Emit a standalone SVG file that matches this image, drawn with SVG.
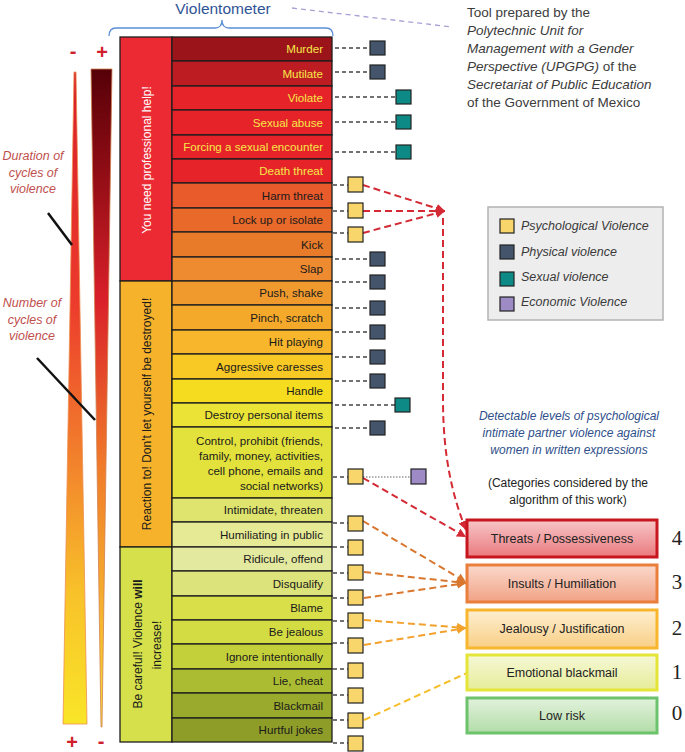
<svg xmlns="http://www.w3.org/2000/svg" width="685" height="752" viewBox="0 0 685 752">
<defs>
<style>
.row{stroke:#1e1e1e;stroke-width:1.3}
.lbl{font-family:"Liberation Sans",Arial,sans-serif;font-size:11.6px;text-anchor:end;fill:#1a1a1a}
.lblY{fill:#F6E84A}
.vt{font-family:"Liberation Sans",Arial,sans-serif;font-size:12px;text-anchor:middle}
.sq{stroke:#222;stroke-width:1.2}
.psy{fill:#F9D66B}
.phy{fill:#44546A}
.sex{fill:#0E8A86}
.eco{fill:#9E8BC6}
.stub{stroke:#444;stroke-width:1.3;stroke-dasharray:4 3;fill:none}
.c4{stroke:#D42A35;stroke-width:2;stroke-dasharray:7 4;fill:none}
.c3{stroke:#D9772F;stroke-width:2;stroke-dasharray:7 4;fill:none}
.c2{stroke:#F2A12C;stroke-width:2;stroke-dasharray:7 4;fill:none}
.c1{stroke:#F5BE2A;stroke-width:2;stroke-dasharray:7 4;fill:none}
.side{font-family:"Liberation Sans",Arial,sans-serif;font-size:12.5px;font-style:italic;fill:#C0504D;text-anchor:middle}
.pm{font-family:"Liberation Sans",Arial,sans-serif;font-size:20px;font-weight:bold;fill:#D0202E;text-anchor:middle}
.note{font-family:"Liberation Sans",Arial,sans-serif;font-size:13.5px;fill:#3c3c3c}
.it{font-style:italic}
.leg{font-family:"Liberation Sans",Arial,sans-serif;font-size:12.5px;font-style:italic;fill:#3a3a3a}
.bx{font-family:"Liberation Sans",Arial,sans-serif;font-size:12.5px;text-anchor:middle;fill:#222}
.num{font-family:"Liberation Serif","Times New Roman",serif;font-size:21px;text-anchor:middle;fill:#222}
</style>
<linearGradient id="gL" x1="0" y1="0" x2="0" y2="1">
<stop offset="0" stop-color="#D81E2A"/><stop offset="0.35" stop-color="#EC3A2C"/><stop offset="0.6" stop-color="#F2832C"/><stop offset="0.8" stop-color="#F8C22A"/><stop offset="1" stop-color="#F9E528"/>
</linearGradient>
<linearGradient id="gR" x1="0" y1="0" x2="0" y2="1">
<stop offset="0" stop-color="#560008"/><stop offset="0.15" stop-color="#8E0C14"/><stop offset="0.35" stop-color="#D9202A"/><stop offset="0.6" stop-color="#F07A2A"/><stop offset="1" stop-color="#F9E030"/>
</linearGradient>
<linearGradient id="b4" x1="0" y1="0" x2="0" y2="1"><stop offset="0" stop-color="#F7C6C7"/><stop offset="1" stop-color="#EA7A7E"/></linearGradient>
<linearGradient id="b3" x1="0" y1="0" x2="0" y2="1"><stop offset="0" stop-color="#FBD9CC"/><stop offset="1" stop-color="#F1A285"/></linearGradient>
<linearGradient id="b2" x1="0" y1="0" x2="0" y2="1"><stop offset="0" stop-color="#FDEFD0"/><stop offset="1" stop-color="#F9CF86"/></linearGradient>
<linearGradient id="b1" x1="0" y1="0" x2="0" y2="1"><stop offset="0" stop-color="#F6F8D6"/><stop offset="1" stop-color="#E6EC98"/></linearGradient>
<linearGradient id="b0" x1="0" y1="0" x2="0" y2="1"><stop offset="0" stop-color="#E3F2DC"/><stop offset="1" stop-color="#B2DDA8"/></linearGradient>
<marker id="a4" markerUnits="userSpaceOnUse" markerWidth="9" markerHeight="9" refX="9" refY="4.5" orient="auto"><path d="M0,0 L9,4.5 L0,9 z" fill="#D42A35"/></marker>
<marker id="a3" markerUnits="userSpaceOnUse" markerWidth="9" markerHeight="9" refX="9" refY="4.5" orient="auto"><path d="M0,0 L9,4.5 L0,9 z" fill="#D9772F"/></marker>
<marker id="a2" markerUnits="userSpaceOnUse" markerWidth="9" markerHeight="9" refX="9" refY="4.5" orient="auto"><path d="M0,0 L9,4.5 L0,9 z" fill="#F2A12C"/></marker>
</defs>
<rect width="685" height="752" fill="#fff"/>

<!-- title and brace -->
<g id="title">
<text x="223" y="14" font-family="Liberation Sans,Arial,sans-serif" font-size="15.5" fill="#2F5496" text-anchor="middle">Violentometer</text>
<path d="M109,36 Q109,28 116,28 L215,28 Q222,28 222,20 Q222,28 229,28 L326,28 Q333,28 333,36" fill="none" stroke="#5B8FD6" stroke-width="1.3"/>
<line x1="292" y1="8" x2="452" y2="27" stroke="#A99FD6" stroke-width="1.3" stroke-dasharray="5 4"/>
</g>

<g id="source-note">
<text class="note" x="467" y="17">Tool prepared by the</text>
<text class="note it" x="467" y="35">Polytechnic Unit for</text>
<text class="note it" x="467" y="53">Management with a Gender</text>
<text class="note" x="467" y="71"><tspan class="it">Perspective (UPGPG)</tspan> of the</text>
<text class="note it" x="467" y="89">Secretariat of Public Education</text>
<text class="note" x="467" y="107">of the Government of Mexico</text>
</g>

<!-- left scales -->
<g id="scales">
<polygon points="74,72 76,72 87,724 63,724" fill="url(#gL)" stroke="#EE9050" stroke-width="0.8"/>
<polygon points="91,69 112,69 102,727 101,727" fill="url(#gR)" stroke="#D08050" stroke-width="0.8"/>
<text class="pm" x="73" y="58">-</text>
<text class="pm" x="102" y="59">+</text>
<text class="pm" x="72" y="749">+</text>
<text class="pm" x="101" y="748">-</text>
<text class="side" x="33" y="160">Duration of</text>
<text class="side" x="33" y="177">cycles of</text>
<text class="side" x="33" y="193">violence</text>
<text class="side" x="32" y="307">Number of</text>
<text class="side" x="32" y="324">cycles of</text>
<text class="side" x="32" y="340">violence</text>
<line x1="48" y1="213" x2="72" y2="245" stroke="#111" stroke-width="2.5"/>
<line x1="37" y1="358" x2="95" y2="420" stroke="#111" stroke-width="2.5"/>
</g>

<!-- left stage column -->
<g id="stage-help">
<rect class="row" x="120" y="37" width="52" height="244" fill="#EC2A33"/>
<text class="vt" fill="#fff" transform="translate(151,160) rotate(-90)">You need professional help!</text>
</g>
<g id="stage-reaction">
<rect class="row" x="120" y="281" width="52" height="266" fill="#F7B22B"/>
<text class="vt" fill="#1a1a1a" transform="translate(151,414) rotate(-90)">Reaction to! Don't let yourself be destroyed!</text>
</g>
<g id="stage-careful">
<rect class="row" x="120" y="547" width="52" height="195" fill="#D5E04A"/>
<text class="vt" fill="#1a1a1a" transform="translate(142,644) rotate(-90)">Be careful! Violence <tspan font-weight="bold">will</tspan></text>
<text class="vt" fill="#1a1a1a" transform="translate(161,645) rotate(-90)">increase!</text>
</g>

<!-- rows -->
<g id="r-murder"><rect class="row" x="172" y="37" width="160" height="24" fill="#9B1419"/><text class="lbl lblY" x="323" y="53">Murder</text></g>
<g id="r-mutilate"><rect class="row" x="172" y="61" width="160" height="25" fill="#BD1C22"/><text class="lbl lblY" x="323" y="78">Mutilate</text></g>
<g id="r-violate"><rect class="row" x="172" y="86" width="160" height="24" fill="#E52329"/><text class="lbl lblY" x="323" y="102">Violate</text></g>
<g id="r-sexual-abuse"><rect class="row" x="172" y="110" width="160" height="25" fill="#E52329"/><text class="lbl lblY" x="323" y="127">Sexual abuse</text></g>
<g id="r-forcing"><rect class="row" x="172" y="135" width="160" height="24" fill="#E52329"/><text class="lbl lblY" x="323" y="151">Forcing a sexual encounter</text></g>
<g id="r-death-threat"><rect class="row" x="172" y="159" width="160" height="24" fill="#E52329"/><text class="lbl lblY" x="323" y="175">Death threat</text></g>
<g id="r-harm-threat"><rect class="row" x="172" y="183" width="160" height="25" fill="#EA5B2C"/><text class="lbl" x="323" y="200">Harm threat</text></g>
<g id="r-lock-up"><rect class="row" x="172" y="208" width="160" height="24" fill="#E8692A"/><text class="lbl" x="323" y="224">Lock up or isolate</text></g>
<g id="r-kick"><rect class="row" x="172" y="232" width="160" height="25" fill="#E77B2A"/><text class="lbl" x="323" y="249">Kick</text></g>
<g id="r-slap"><rect class="row" x="172" y="257" width="160" height="24" fill="#EE8A2F"/><text class="lbl" x="323" y="273">Slap</text></g>
<g id="r-push"><rect class="row" x="172" y="281" width="160" height="24" fill="#F09A2E"/><text class="lbl" x="323" y="297">Push, shake</text></g>
<g id="r-pinch"><rect class="row" x="172" y="305" width="160" height="25" fill="#F4A92B"/><text class="lbl" x="323" y="322">Pinch, scratch</text></g>
<g id="r-hit"><rect class="row" x="172" y="330" width="160" height="24" fill="#F7B62B"/><text class="lbl" x="323" y="346">Hit playing</text></g>
<g id="r-aggressive"><rect class="row" x="172" y="354" width="160" height="25" fill="#F8C824"/><text class="lbl" x="323" y="371">Aggressive caresses</text></g>
<g id="r-handle"><rect class="row" x="172" y="379" width="160" height="24" fill="#F6DC1E"/><text class="lbl" x="323" y="395">Handle</text></g>
<g id="r-destroy"><rect class="row" x="172" y="403" width="160" height="24" fill="#EBE437"/><text class="lbl" x="323" y="419">Destroy personal items</text></g>
<g id="r-control"><rect class="row" x="172" y="427" width="160" height="71" fill="#E3E23D"/>
<text class="lbl" x="323" y="445">Control, prohibit (friends,</text>
<text class="lbl" x="323" y="460">family, money, activities,</text>
<text class="lbl" x="323" y="475">cell phone, emails and</text>
<text class="lbl" x="323" y="490">social networks)</text></g>
<g id="r-intimidate"><rect class="row" x="172" y="498" width="160" height="24" fill="#DFE46E"/><text class="lbl" x="323" y="514">Intimidate, threaten</text></g>
<g id="r-humiliating"><rect class="row" x="172" y="522" width="160" height="25" fill="#E6EA95"/><text class="lbl" x="323" y="539">Humiliating in public</text></g>
<g id="r-ridicule"><rect class="row" x="172" y="547" width="160" height="24" fill="#E4E9A0"/><text class="lbl" x="323" y="563">Ridicule, offend</text></g>
<g id="r-disqualify"><rect class="row" x="172" y="571" width="160" height="25" fill="#DCE37B"/><text class="lbl" x="323" y="588">Disqualify</text></g>
<g id="r-blame"><rect class="row" x="172" y="596" width="160" height="24" fill="#D8DF48"/><text class="lbl" x="323" y="612">Blame</text></g>
<g id="r-jealous"><rect class="row" x="172" y="620" width="160" height="24" fill="#D4DC44"/><text class="lbl" x="323" y="636">Be jealous</text></g>
<g id="r-ignore"><rect class="row" x="172" y="644" width="160" height="25" fill="#C4D03A"/><text class="lbl" x="323" y="661">Ignore intentionally</text></g>
<g id="r-lie"><rect class="row" x="172" y="669" width="160" height="24" fill="#ACBC32"/><text class="lbl" x="323" y="685">Lie, cheat</text></g>
<g id="r-blackmail"><rect class="row" x="172" y="693" width="160" height="25" fill="#9AAA2C"/><text class="lbl" x="323" y="710">Blackmail</text></g>
<g id="r-hurtful"><rect class="row" x="172" y="718" width="160" height="24" fill="#8E9D28"/><text class="lbl" x="323" y="734">Hurtful jokes</text></g>

<!-- stubs and connectors -->
<g id="connectors">
<path class="stub" d="M335,48H370 M335,72H370 M335,259H370 M335,282H370 M335,308H370 M335,332H370 M335,357H370 M335,381H370 M335,428H370"/>
<path class="stub" d="M335,97H396 M335,122H396 M335,152H396 M335,405H396"/>
<path class="stub" d="M333,185H348 M333,211H348 M333,233H348 M333,477H348 M333,523H348 M333,547H348 M333,573H348 M333,598H348 M333,621H348 M333,643H348 M333,669H348 M333,695H348 M333,720H348 M333,743H348"/>
<line x1="363" y1="477" x2="411" y2="477" stroke="#999" stroke-width="1.3" stroke-dasharray="1.5 1.5"/>
<line class="c4" x1="363" y1="185" x2="445" y2="211" marker-end="url(#a4)"/>
<line class="c4" x1="363" y1="211" x2="445" y2="211" marker-end="url(#a4)"/>
<line class="c4" x1="363" y1="233" x2="445" y2="211" marker-end="url(#a4)"/>
<path class="c4" d="M443,218 L443,400 C443,455 452,495 466,530" marker-end="url(#a4)"/>
<line class="c4" x1="363" y1="478" x2="466" y2="537" marker-end="url(#a4)"/>
<line class="c3" x1="363" y1="521" x2="466" y2="582" marker-end="url(#a3)"/>
<line class="c3" x1="364" y1="572" x2="466" y2="583" marker-end="url(#a3)"/>
<line class="c3" x1="364" y1="598" x2="466" y2="583" marker-end="url(#a3)"/>
<line class="c2" x1="364" y1="620" x2="466" y2="628" marker-end="url(#a2)"/>
<line class="c2" x1="364" y1="645" x2="466" y2="628" marker-end="url(#a2)"/>
<line class="c1" x1="364" y1="720" x2="467" y2="673"/>
</g>

<!-- markers (squares) -->
<g id="sq-physical">
<rect class="sq phy" x="370" y="41" width="15" height="14"/><rect class="sq phy" x="370" y="65" width="15" height="14"/>
<rect class="sq phy" x="370" y="252" width="15" height="14"/><rect class="sq phy" x="370" y="275" width="15" height="14"/>
<rect class="sq phy" x="370" y="301" width="15" height="14"/><rect class="sq phy" x="370" y="325" width="15" height="14"/>
<rect class="sq phy" x="370" y="350" width="15" height="14"/><rect class="sq phy" x="370" y="374" width="15" height="14"/>
<rect class="sq phy" x="370" y="421" width="15" height="14"/>
</g>
<g id="sq-sexual">
<rect class="sq sex" x="396" y="90" width="15" height="14"/><rect class="sq sex" x="396" y="115" width="15" height="14"/>
<rect class="sq sex" x="396" y="145" width="15" height="14"/><rect class="sq sex" x="395" y="398" width="15" height="14"/>
</g>
<g id="sq-psych">
<rect class="sq psy" x="348" y="177" width="15" height="15"/><rect class="sq psy" x="348" y="203" width="15" height="15"/>
<rect class="sq psy" x="348" y="227" width="15" height="15"/><rect class="sq psy" x="348" y="469" width="15" height="15"/>
<rect class="sq psy" x="348" y="516" width="15" height="15"/><rect class="sq psy" x="348" y="540" width="15" height="15"/>
<rect class="sq psy" x="348" y="565" width="15" height="15"/><rect class="sq psy" x="348" y="590" width="15" height="15"/>
<rect class="sq psy" x="348" y="613" width="15" height="15"/><rect class="sq psy" x="348" y="638" width="15" height="15"/>
<rect class="sq psy" x="348" y="663" width="15" height="15"/><rect class="sq psy" x="348" y="688" width="15" height="15"/>
<rect class="sq psy" x="348" y="713" width="15" height="15"/><rect class="sq psy" x="348" y="736" width="15" height="15"/>
</g>
<g id="sq-economic"><rect class="sq eco" x="411" y="469" width="15" height="15"/></g>

<!-- legend -->
<g id="legend">
<rect x="488" y="207" width="175" height="113" fill="#EDEDED" stroke="#B3B3B3" stroke-width="1.5"/>
<rect class="sq psy" x="500" y="219" width="14" height="14"/><text class="leg" x="521" y="230">Psychological Violence</text>
<rect class="sq phy" x="500" y="245" width="14" height="14"/><text class="leg" x="521" y="256">Physical violence</text>
<rect class="sq sex" x="500" y="272" width="14" height="14"/><text class="leg" x="521" y="281">Sexual violence</text>
<rect class="sq eco" x="500" y="297" width="14" height="14"/><text class="leg" x="521" y="306">Economic Violence</text>
</g>

<g id="levels-caption">
<text font-family="Liberation Sans,Arial,sans-serif" font-size="12px" font-style="italic" fill="#2E4F8A" text-anchor="middle"><tspan x="569" y="420">Detectable levels of psychological</tspan><tspan x="569" y="437">intimate partner violence against</tspan><tspan x="569" y="454">women in written expressions</tspan></text>
<text font-family="Liberation Sans,Arial,sans-serif" font-size="12px" fill="#222" text-anchor="middle"><tspan x="568" y="487">(Categories considered by the</tspan><tspan x="568" y="504">algorithm of this work)</tspan></text>
</g>

<g id="lvl4"><rect x="467" y="520" width="190" height="37" fill="url(#b4)" stroke="#C8161E" stroke-width="3"/><text class="bx" x="562" y="543">Threats / Possessiveness</text><text class="num" x="677" y="545">4</text></g>
<g id="lvl3"><rect x="467" y="565" width="190" height="37" fill="url(#b3)" stroke="#E97F3B" stroke-width="3"/><text class="bx" x="562" y="588">Insults / Humiliation</text><text class="num" x="677" y="589">3</text></g>
<g id="lvl2"><rect x="467" y="610" width="190" height="38" fill="url(#b2)" stroke="#F8B62E" stroke-width="3"/><text class="bx" x="562" y="633">Jealousy / Justification</text><text class="num" x="677" y="635">2</text></g>
<g id="lvl1"><rect x="467" y="655" width="190" height="35" fill="url(#b1)" stroke="#E5E539" stroke-width="3"/><text class="bx" x="562" y="677">Emotional blackmail</text><text class="num" x="677" y="679">1</text></g>
<g id="lvl0"><rect x="467" y="698" width="190" height="35" fill="url(#b0)" stroke="#6DC26C" stroke-width="3"/><text class="bx" x="562" y="720">Low risk</text><text class="num" x="677" y="720">0</text></g>
</svg>
